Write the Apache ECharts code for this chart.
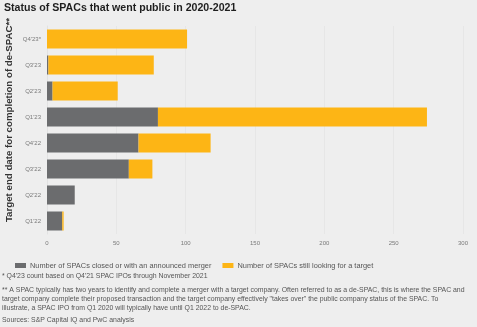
<!DOCTYPE html>
<html>
<head>
<meta charset="utf-8">
<script src="https://cdn.jsdelivr.net/npm/echarts@6/dist/echarts.min.js"></script>
<style>
  html, body { margin: 0; padding: 0; background: #eeeeee; }
  #chart { width: 477px; height: 327px; }
</style>
</head>
<body>
<div id="chart"></div>
<script>
// Quarters by target de-SPAC deadline (bottom to top)
const quarters = ["Q1'22", "Q2'22", "Q3'22", "Q4'22", "Q1'23", "Q2'23", "Q3'23", "Q4'23*"];
// SPACs that closed or announced a merger
const closedOrAnnounced = [11, 20, 59, 66, 80, 4, 1, 0];
// SPACs still searching for a target
const stillLooking = [1, 0, 17, 52, 194, 47, 76, 101];
const xTicks = [0, 50, 100, 150, 200, 250, 300];

const title = 'Status of SPACs that went public in 2020-2021';
const axisName = 'Target end date for completion of de-SPAC**';
const seriesNames = ['Number of SPACs closed or with an announced merger', 'Number of SPACs still looking for a target'];
const notes = [
  "* Q4'23 count based on Q4'21 SPAC IPOs through November 2021",
  '** A SPAC typically has two years to identify and complete a merger with a target company. Often referred to as a de-SPAC, this is where the SPAC and',
  'target company complete their proposed transaction and the target company effectively "takes over" the public company status of the SPAC. To',
  'illustrate, a SPAC IPO from Q1 2020 will typically have until Q1 2022 to de-SPAC.',
  'Sources: S&P Capital IQ and PwC analysis'
];

const GRAY = '#6b6c6e';
const GOLD = '#fdb515';
const FONT = '"Liberation Sans", Arial, Helvetica, sans-serif';

const chart = echarts.init(document.getElementById('chart'), null, { renderer: 'canvas' });

const noteY = [273, 287, 296, 305, 317];
const graphics = notes.map((t, i) => ({
  type: 'text',
  left: 2,
  top: noteY[i],
  style: { text: t, fill: '#555', font: '6.9px ' + FONT }
}));
graphics.push({
  type: 'text',
  left: 4,
  top: 3,
  style: { text: title, fill: '#1e1e1e', font: 'bold 10.6px ' + FONT }
});
// Rotated category-axis title on the left
graphics.push({
  type: 'text',
  x: 9,
  y: 120,
  rotation: Math.PI / 2,
  style: {
    text: axisName,
    fill: '#333',
    font: 'bold 9.7px ' + FONT,
    align: 'center',
    verticalAlign: 'middle'
  }
});

chart.setOption({
  backgroundColor: '#eeeeee',
  animation: false,
  textStyle: { fontFamily: FONT },
  grid: { left: 47, right: 14, top: 26, bottom: 93, containLabel: false, outerBoundsMode: 'none' },
  legend: {
    left: 10,
    top: 257,
    itemWidth: 11,
    itemHeight: 5,
    itemGap: 11,
    icon: 'rect',
    textStyle: { fontSize: 7.4, color: '#555', fontFamily: FONT, padding: [0, 0, 0, -1] },
    data: seriesNames
  },
  xAxis: {
    type: 'value',
    min: 0,
    max: 300,
    interval: 50,
    axisLine: { show: false },
    axisTick: { show: false },
    splitLine: { show: true, lineStyle: { color: '#e6e6e6', width: 1 } },
    axisLabel: {
      fontSize: 6,
      color: '#7a7a7a',
      margin: 6,
      formatter: v => xTicks.includes(v) ? String(v) : ''
    }
  },
  yAxis: {
    type: 'category',
    data: quarters,
    axisTick: { show: false },
    axisLine: { show: true, lineStyle: { color: '#e2e2e2' } },
    axisLabel: { fontSize: 6, color: '#7a7a7a', margin: 6 }
  },
  series: [
    {
      name: seriesNames[0],
      type: 'bar',
      stack: 'total',
      barWidth: 19,
      itemStyle: { color: GRAY },
      data: closedOrAnnounced
    },
    {
      name: seriesNames[1],
      type: 'bar',
      stack: 'total',
      barWidth: 19,
      itemStyle: { color: GOLD },
      data: stillLooking
    }
  ],
  graphic: graphics
});
</script>
</body>
</html>
